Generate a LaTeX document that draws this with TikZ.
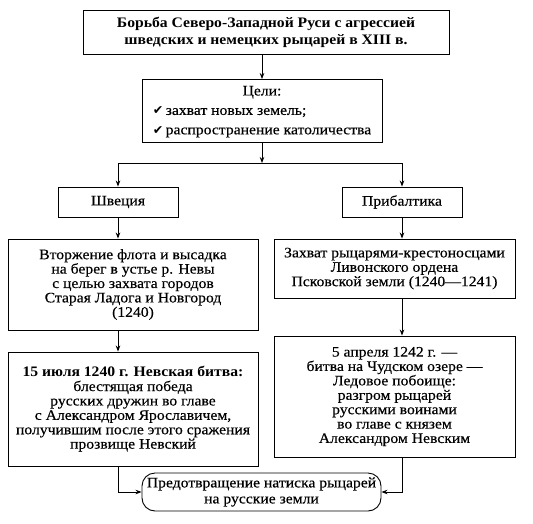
\documentclass[tikz,border=0pt]{standalone}
\usepackage{fontspec}
\setmainfont{Liberation Serif}[FakeStretch=1.08,UprightFeatures={FakeBold=0.35}]
\newfontfamily\dejavu{DejaVu Sans}
\usetikzlibrary{arrows.meta}
\newcommand{\chk}{{\dejavu\fontsize{12.5}{13}\selectfont ✔}}
\begin{document}
\begin{tikzpicture}[x=1pt,y=-1pt,
  box/.style={draw,line width=0.9pt,inner sep=0pt,align=center,font=\fontsize{14.5}{14.4}\selectfont},
  arr/.style={line width=0.8pt,-{Stealth[length=6pt,width=4.5pt]}},
  ln/.style={line width=0.8pt}]
\useasboundingbox (0,0) rectangle (533,523);
\node[box,minimum width=366pt,minimum height=44pt,font=\bfseries\fontsize{14.5}{17}\selectfont] (top) at (266,32)
  {Борьба Северо-Западной Руси с агрессией\\шведских и немецких рыцарей в XIII в.};
\node[box,minimum width=240pt,minimum height=63pt] (goals) at (262,111)
  {\renewcommand{\arraystretch}{1.35}\begin{tabular}{@{}l@{}}\multicolumn{1}{@{}c@{}}{Цели:}\\ \chk\,захват новых земель;\\ \chk\,распространение католичества\end{tabular}};
\coordinate (split) at (262,163);
\node[box,minimum width=120pt,minimum height=30pt] (sw) at (118,202) {Швеция};
\node[box,minimum width=120pt,minimum height=30pt] (pr) at (402,202) {Прибалтика};
\node[box,minimum width=250pt,minimum height=91pt] (inv) at (133,284.5)
  {Вторжение флота и высадка\\на берег в устье р. Невы\\с целью захвата городов\\Старая Ладога и Новгород\\(1240)};
\node[box,minimum width=241pt,minimum height=59pt] (cap) at (394.5,268.5)
  {Захват рыцарями-крестоносцами\\Ливонского ордена\\Псковской земли (1240---1241)};
\node[box,minimum width=250pt,minimum height=114pt] (nev) at (133,409)
  {\textbf{15 июля 1240 г. Невская битва:}\\блестящая победа\\русских дружин во главе\\с Александром Ярославичем,\\получившим после этого сражения\\прозвище Невский};
\node[box,minimum width=241pt,minimum height=121pt] (ice) at (394.5,396.5)
  {5 апреля 1242 г. ---\\битва на Чудском озере ---\\Ледовое побоище:\\разгром рыцарей\\русскими воинами\\во главе с князем\\Александром Невским};
\node[box,minimum width=239pt,minimum height=38pt,rounded corners=13pt,font=\fontsize{14.5}{16}\selectfont] (prev) at (261.5,492)
  {Предотвращение натиска рыцарей\\на русские земли};
\draw[arr] (goals.north |- top.south) -- (goals.north);
\draw[arr] (goals.south) -- (split);
\draw[arr] (split) -| (sw.north);
\draw[arr] (split) -| (pr.north);
\draw[arr] (sw.south) -- (sw.south |- inv.north);
\draw[arr] (pr.south) -- (pr.south |- cap.north);
\draw[arr] (sw.south |- inv.south) -- (sw.south |- nev.north);
\draw[arr] (pr.south |- cap.south) -- (pr.south |- ice.north);
\draw[arr] (sw.south |- nev.south) |- (prev.west);
\draw[arr] (pr.south |- ice.south) |- (prev.east);
\end{tikzpicture}
\end{document}
